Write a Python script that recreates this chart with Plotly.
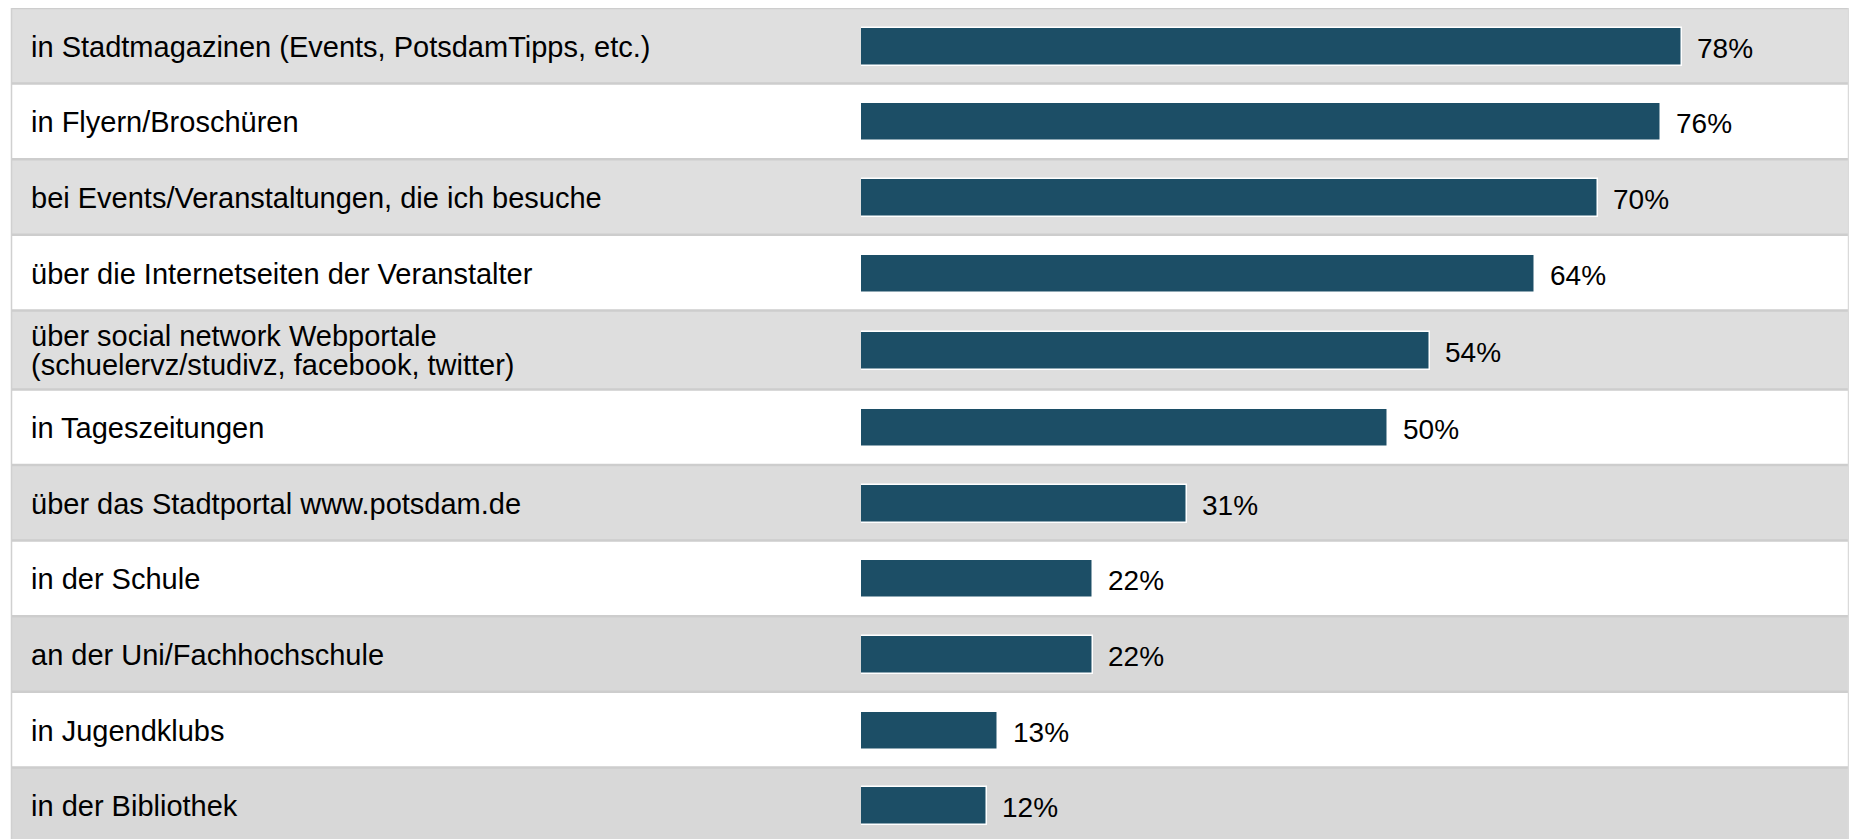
import plotly.graph_objects as go

categories = [
    "in Stadtmagazinen (Events, PotsdamTipps, etc.)",
    "in Flyern/Broschüren",
    "bei Events/Veranstaltungen, die ich besuche",
    "über die Internetseiten der Veranstalter",
    "über social network Webportale<br>(schuelervz/studivz, facebook, twitter)",
    "in Tageszeitungen",
    "über das Stadtportal www.potsdam.de",
    "in der Schule",
    "an der Uni/Fachhochschule",
    "in Jugendklubs",
    "in der Bibliothek",
]
values = [78, 76, 70, 64, 54, 50, 31, 22, 22, 13, 12]

# ---- layout geometry (pixels) ----
W, H = 1849, 839
TOP = 8
ROW_H = 75.6          # single-line row height
ROW_H_2 = 79.0        # two-line row height
BAR_H = 38
BAR_X0 = 861
PX_PER_PCT = 10.53
FONT = "Liberation Sans, Arial, sans-serif"

n = len(categories)
heights = [ROW_H_2 if "<br>" in c else ROW_H for c in categories]
tops = []
acc = 0.0
for h in heights:
    tops.append(acc)
    acc += h
centers = [t + h / 2 for t, h in zip(tops, heights)]

fig = go.Figure(
    go.Bar(
        x=values,
        y=centers,
        orientation="h",
        width=BAR_H,
        offset=-BAR_H / 2 + 1.0,
        marker=dict(color="#1C4E66", line=dict(color="#FFFFFF", width=1.5)),
        hoverinfo="skip",
    )
)

shapes = []
row_colors = ["#DFDFDF", None, "#DFDFDF", None, "#DEDEDE", None,
              "#DCDCDC", None, "#D8D8D8", None, "#D8D8D8"]
for i, c in enumerate(row_colors):
    if c:
        shapes.append(dict(type="rect", xref="paper", yref="y", x0=11.5 / W, x1=1,
                           y0=tops[i], y1=tops[i] + heights[i], fillcolor=c,
                           line=dict(width=0), layer="below"))
for yb in tops + [acc]:
    shapes.append(dict(type="line", xref="paper", yref="y", x0=11 / W, x1=1,
                       y0=yb, y1=yb, line=dict(color="#CDCDCD", width=2.5),
                       layer="below"))
shapes.append(dict(type="line", xref="paper", yref="y", x0=11.5 / W, x1=11.5 / W,
                   y0=0, y1=acc, line=dict(color="#D0D0D0", width=1.5), layer="below"))
shapes.append(dict(type="line", xref="paper", yref="y", x0=1848.5 / W, x1=1848.5 / W,
                   y0=0, y1=acc, line=dict(color="#DADADA", width=1.5), layer="below"))

annotations = []
for i, (cat, v) in enumerate(zip(categories, values)):
    yc = centers[i]
    lines = cat.split("<br>")
    if len(lines) == 1:
        annotations.append(dict(xref="paper", yref="y", x=29 / W, y=yc, text=cat,
                                xanchor="left", yanchor="middle", showarrow=False,
                                yshift=-1,
                                font=dict(family=FONT, size=29, color="#000000")))
    else:
        shifts = [13.5, -15]
        for k, ln in enumerate(lines):
            annotations.append(dict(xref="paper", yref="y", x=29 / W, y=yc, text=ln,
                                    xanchor="left", yanchor="middle", showarrow=False,
                                    yshift=shifts[k],
                                    font=dict(family=FONT, size=29, color="#000000")))
    annotations.append(dict(xref="x", yref="y", x=v, y=yc, text=f"{v}%",
                            xanchor="left", yanchor="middle", showarrow=False,
                            xshift=13, yshift=-2.5,
                            font=dict(family=FONT, size=28, color="#000000")))

plot_h = H - TOP
fig.update_layout(
    width=W, height=H,
    margin=dict(l=0, r=0, t=TOP, b=0, pad=0),
    paper_bgcolor="#FFFFFF", plot_bgcolor="#FFFFFF",
    showlegend=False,
    bargap=0,
    xaxis=dict(domain=[BAR_X0 / W, 1], range=[0, (W - BAR_X0) / PX_PER_PCT],
               showgrid=False, zeroline=False, showticklabels=False, ticks="",
               showline=False, fixedrange=True),
    yaxis=dict(range=[plot_h, 0], showgrid=False, zeroline=False,
               showticklabels=False, ticks="", showline=False, fixedrange=True),
    shapes=shapes,
    annotations=annotations,
)

fig.write_html(
    "out.html",
    config={"displayModeBar": False},
    post_script="document.body.style.margin='0';document.body.style.overflow='hidden';"
                "document.documentElement.style.overflow='hidden';",
)
